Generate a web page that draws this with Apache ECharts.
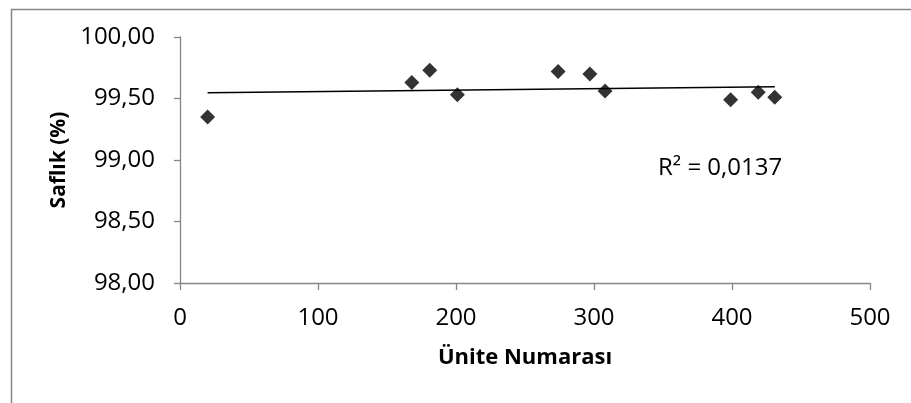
<!DOCTYPE html>
<html>
<head>
<meta charset="utf-8">
<script src="https://cdn.jsdelivr.net/npm/echarts@6/dist/echarts.min.js"></script>
<style>
html,body{margin:0;padding:0;background:#fff;}
#c{width:911px;height:403px;}
</style>
</head>
<body>
<div id="c"></div>
<script>
const unitNumbers = [20, 168, 181, 201, 274, 297, 308, 399, 419, 431];
const purity = [99.35, 99.63, 99.73, 99.53, 99.72, 99.70, 99.56, 99.49, 99.55, 99.51];
const xTicks = [0, 100, 200, 300, 400, 500];
const yTicks = [98, 98.5, 99, 99.5, 100];
const r2Label = 'R² = 0,0137';
const xTitle = 'Ünite Numarası';
const yTitle = 'Saflık (%)';

// linear trendline (least squares) from the data
const n = unitNumbers.length;
const mx = unitNumbers.reduce((a, b) => a + b, 0) / n;
const my = purity.reduce((a, b) => a + b, 0) / n;
let sxy = 0, sxx = 0;
for (let i = 0; i < n; i++) { sxy += (unitNumbers[i] - mx) * (purity[i] - my); sxx += (unitNumbers[i] - mx) ** 2; }
const slope = sxy / sxx, icpt = my - slope * mx;
const xMin = Math.min(...unitNumbers), xMax = Math.max(...unitNumbers);
const trend = [[xMin, icpt + slope * xMin], [xMax, icpt + slope * xMax]];

const font = 'Open Sans';
const chart = echarts.init(document.getElementById('c'));
chart.setOption({
  animation: false,
  backgroundColor: '#fff',
  grid: { left: 180, right: 41, top: 37, bottom: 120, containLabel: false },
  xAxis: {
    type: 'value', min: xTicks[0], max: xTicks[xTicks.length - 1], interval: 100,
    splitLine: { show: false },
    axisLine: { lineStyle: { color: '#868686', width: 1.3 } },
    axisTick: { show: true, length: 7, lineStyle: { color: '#868686', width: 1.3 } },
    axisLabel: { color: '#000', fontFamily: font, fontSize: 24, margin: 23 },
    name: xTitle, nameLocation: 'middle', nameGap: 64,
    nameTextStyle: { color: '#000', fontFamily: font, fontSize: 22, fontWeight: 'bold' }
  },
  yAxis: {
    type: 'value', min: yTicks[0], max: yTicks[yTicks.length - 1], interval: 0.5,
    splitLine: { show: false },
    axisLine: { show: true, lineStyle: { color: '#868686', width: 1.3 } },
    axisTick: { show: true, length: 6, lineStyle: { color: '#868686', width: 1.3 } },
    axisLabel: { color: '#000', fontFamily: font, fontSize: 24, margin: 25,
      formatter: v => v.toFixed(2).replace('.', ',') },
    name: yTitle, nameLocation: 'middle', nameGap: 108, nameRotate: 90,
    nameTextStyle: { color: '#000', fontFamily: font, fontSize: 21, fontWeight: 'bold' }
  },
  graphic: [
    { type: 'rect', left: 9, top: 7, shape: { width: 1000, height: 500 },
      style: { fill: 'none', stroke: '#868686', lineWidth: 1.5 }, silent: true, z: -1 },
    { type: 'text', left: 658, top: 156,
      style: { text: r2Label, font: '24px "Open Sans"', fill: '#000' } }
  ],
  series: [
    { type: 'line', data: trend, symbol: 'none', lineStyle: { color: '#000', width: 1.5 }, z: 1 },
    { type: 'scatter', data: unitNumbers.map((x, i) => [x, purity[i]]),
      symbol: 'diamond', symbolSize: [15, 15], itemStyle: { color: '#000' }, z: 2 }
  ]
});
</script>
</body>
</html>
